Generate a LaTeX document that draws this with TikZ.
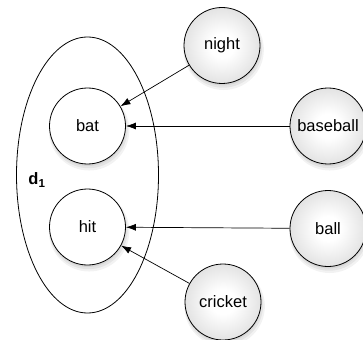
\documentclass[tikz,border=0pt]{standalone}
\usepackage{fontspec}
\setmainfont{Liberation Sans}
\usetikzlibrary{arrows.meta,shadows,shapes.geometric}
\pgfdeclareradialshading{ballshade}{\pgfpoint{0bp}{0bp}}{color(0bp)=(white); color(8bp)=(white); color(50bp)=(black!27); color(100bp)=(black!27)}
\begin{document}
\begin{tikzpicture}[x=1pt,y=-1pt,
  softshadow/.style={
    drop shadow={opacity=0.14,shadow xshift=0.5pt,shadow yshift=-2pt,shadow scale=1.0},
    drop shadow={opacity=0.12,shadow xshift=1pt,shadow yshift=-3pt,shadow scale=1.03},
    drop shadow={opacity=0.10,shadow xshift=1.5pt,shadow yshift=-4pt,shadow scale=1.06}},
  word/.style={circle,draw=black,line width=0.8pt,minimum size=76pt,inner sep=0pt,
    font=\fontsize{16.5}{18}\selectfont},
  docword/.style={word,fill=white,softshadow},
  ctxword/.style={word,shading=ballshade,softshadow},
  link/.style={line width=0.7pt,-{Latex[length=10pt,width=7pt]}}]
\useasboundingbox (0,0) rectangle (363,339);
\node[ellipse,draw=black,line width=0.8pt,minimum width=142pt,minimum height=276pt,inner sep=0pt] (d) at (87.5,175) {};
\node[docword] (bat) at (87.5,126) {bat};
\node[docword] (hit) at (87.5,227) {hit};
\node[font=\fontsize{16.5}{18}\selectfont\bfseries] (dl) at (37,180) {d$_{\mathbf{1}}$};
\node[ctxword] (night) at (222,45.5) {night};
\node[ctxword] (baseball) at (328,126) {baseball};
\node[ctxword] (ball) at (328,228.5) {ball};
\node[ctxword] (cricket) at (223,302) {cricket};
\draw[link] (night) -- (bat);
\draw[link] (baseball) -- (bat);
\draw[link] (ball) -- (hit);
\draw[link] (cricket) -- (hit);
\end{tikzpicture}
\end{document}
